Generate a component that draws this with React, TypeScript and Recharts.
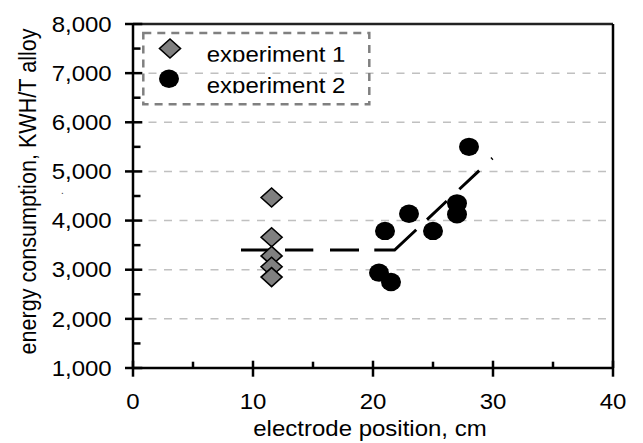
import React from 'react';
import {
  ScatterChart, Scatter, XAxis, YAxis, CartesianGrid, ReferenceLine,
} from 'recharts';

// ---- data ----
const exp1Position = [11.55, 11.55, 11.55, 11.55, 11.55];
const exp1Energy = [4470, 3660, 3280, 3060, 2850];

const exp2Position = [20.5, 21, 21.5, 23, 25, 27, 27, 28];
const exp2Energy = [2940, 3790, 2750, 4140, 3790, 4350, 4130, 5500];

const trendPosition = [9, 21.8, 29.95];
const trendEnergy = [3400, 3400, 5270];

const xTicks = [0, 5, 10, 15, 20, 25, 30, 35, 40];
const yTicks = [1000, 1500, 2000, 2500, 3000, 3500, 4000, 4500, 5000, 5500, 6000, 6500, 7000, 7500, 8000];
const gridValues = [2000, 3000, 4000, 5000, 6000, 7000];

const seriesNames = ['experiment 1', 'experiment 2'];
const xTitle = 'electrode position, cm';
const yTitle = 'energy consumption, KWH/T alloy';

const toPoints = (xs: number[], ys: number[]) => xs.map((x, i) => ({ x, y: ys[i] }));
const exp1Data = toPoints(exp1Position, exp1Energy);
const exp2Data = toPoints(exp2Position, exp2Energy);
const trendData = toPoints(trendPosition, trendEnergy);

const FONT = '"Liberation Sans", Arial, sans-serif';
const INK = '#000000';
const AXW = 2.5;

const SText = ({ x, y, anchor = 'start', size = 24, rotate = false, children }: any) => (
  <text
    transform={`translate(${x},${y}) scale(1,0.9)${rotate ? ' rotate(-90)' : ''}`}
    textAnchor={anchor}
    fontSize={size}
    fontFamily={FONT}
    fill="#000"
    stroke="none"
  >
    {children}
  </text>
);

const Diamond = ({ cx, cy }: any) => (
  <path
    d={`M${cx},${cy - 9.5} L${cx + 10.5},${cy} L${cx},${cy + 9.5} L${cx - 10.5},${cy} Z`}
    fill="#808080"
    stroke="#000"
    strokeWidth={1.6}
  />
);

const Dot = ({ cx, cy }: any) => <ellipse cx={cx} cy={cy} rx={10} ry={9.2} fill="#000" />;

const YTick = (p: any) => {
  const x = Number(p.x);
  const y = Number(p.y);
  const v = p.payload.value;
  const major = v % 1000 === 0;
  return (
    <g>
      <line x1={major ? x - 8 : x} x2={major ? x + 9.3 : x + 7.5} y1={y} y2={y} stroke={INK} strokeWidth={AXW} />
      {major && (
        <SText x={x - 21.3} y={y + 7.7} anchor="end">
          {v.toLocaleString('en-US')}
        </SText>
      )}
    </g>
  );
};

const XTick = (p: any) => {
  const x = Number(p.x);
  const y = Number(p.y);
  const v = p.payload.value;
  const major = v % 10 === 0;
  return (
    <g>
      <line x1={x} x2={x} y1={major ? y - 7.3 : y - 6.3} y2={major ? y + 8.7 : y} stroke={INK} strokeWidth={AXW} />
      {major && (
        <SText x={x} y={y + 41.3} anchor="middle">
          {String(v)}
        </SText>
      )}
    </g>
  );
};

const LegendBox = () => (
  <svg width={240} height={85} style={{ display: 'block', overflow: 'visible' }}>
    <defs>
      <clipPath id="legendRow1">
        <rect x={0} y={0} width={240} height={33.7} />
      </clipPath>
      <clipPath id="legendRow2">
        <rect x={0} y={40} width={240} height={25.3} />
      </clipPath>
    </defs>
    <rect x={5.3} y={5} width={226} height={71.3} fill="none" stroke="#808080" strokeWidth={2.5} strokeDasharray="8 6" />
    <Diamond cx={32} cy={20.5} />
    <Dot cx={31} cy={50.7} />
    <g clipPath="url(#legendRow1)">
      <SText x={68.7} y={34.3}>{seriesNames[0]}</SText>
    </g>
    <g clipPath="url(#legendRow2)">
      <SText x={68.7} y={64.8}>{seriesNames[1]}</SText>
    </g>
  </svg>
);

export default function App() {
  return (
    <div style={{ width: 635, height: 435, fontFamily: FONT, position: 'relative' }}>
      <ScatterChart width={635} height={435} margin={{ top: 16, right: 30, bottom: 0, left: 0 }}>
        <CartesianGrid
          vertical={false}
          horizontalValues={gridValues}
          stroke="#c0c0c0"
          strokeWidth={1.5}
          strokeDasharray="8 7.5"
        />
        <XAxis
          type="number"
          dataKey="x"
          domain={[0, 40]}
          ticks={xTicks}
          interval={0}
          height={75}
          tickSize={0}
          tickMargin={0}
          axisLine={{ stroke: INK, strokeWidth: AXW }}
          tick={<XTick />}
        />
        <YAxis
          type="number"
          dataKey="y"
          domain={[1000, 8000]}
          ticks={yTicks}
          interval={0}
          width={125}
          tickSize={0}
          tickMargin={0}
          axisLine={{ stroke: INK, strokeWidth: AXW }}
          tick={<YTick />}
        />
        <ReferenceLine y={8000} stroke="#222222" strokeWidth={AXW} />
        <ReferenceLine x={40} stroke={INK} strokeWidth={AXW} />
        <Scatter
          name="trend"
          data={trendData}
          isAnimationActive={false}
          legendType="none"
          fill="#000"
          line={{ stroke: '#000', strokeWidth: 3, strokeDasharray: '29 15 28.3 16.7 29 15.3 50 14.8 27.1 17.2 27.3 16.8 3 100' }}
          shape={() => <g />}
        />
        <Scatter
          name={seriesNames[0]}
          data={exp1Data}
          isAnimationActive={false}
          shape={(p: any) => <Diamond cx={p.cx} cy={p.cy} />}
        />
        <Scatter
          name={seriesNames[1]}
          data={exp2Data}
          isAnimationActive={false}
          shape={(p: any) => <Dot cx={p.cx} cy={p.cy} />}
        />
      </ScatterChart>
      <svg width={635} height={435} style={{ position: 'absolute', left: 0, top: 0, pointerEvents: 'none' }}>
        <SText x={478.7} y={428.2} anchor="end">{xTitle}</SText>
        <SText x={27.5} y={183.5} anchor="middle" rotate>{yTitle}</SText>
        <text x={53} y={186} fontSize={10} fontFamily={FONT} fill="#333">.</text>
      </svg>
      <div style={{ position: 'absolute', left: 130, top: 20, width: 240, height: 85 }}>
        <LegendBox />
      </div>
    </div>
  );
}
